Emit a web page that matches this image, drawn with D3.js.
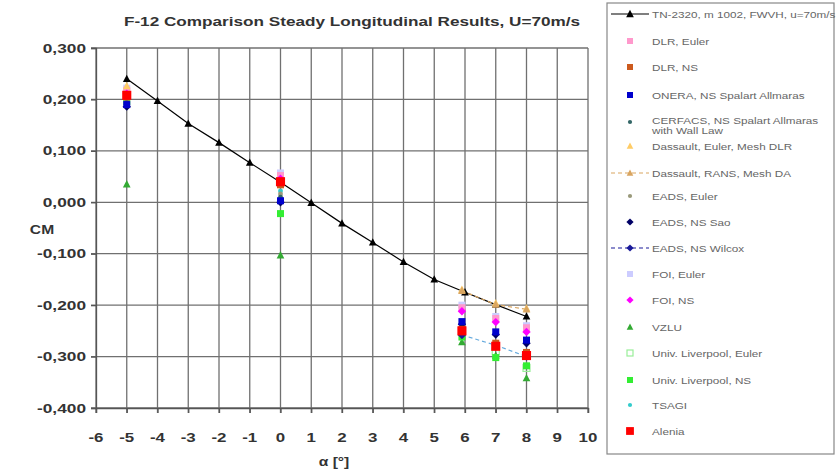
<!DOCTYPE html>
<html><head><meta charset="utf-8">
<script src="https://cdn.jsdelivr.net/npm/d3@7/dist/d3.min.js"></script>
<style>body{margin:0;background:#fff}svg{display:block}</style>
</head><body><svg id="c" width="838" height="473"></svg>
<script>
const title = "F-12 Comparison Steady Longitudinal Results, U=70m/s";
const xTicks = [-6,-5,-4,-3,-2,-1,0,1,2,3,4,5,6,7,8,9,10];
const yTicks = [0.3,0.2,0.1,0,-0.1,-0.2,-0.3,-0.4];

const names = ["TN-2320, m 1002, FWVH, u=70m/s","DLR, Euler","DLR, NS","ONERA, NS Spalart Allmaras",
 "CERFACS, NS Spalart Allmaras\nwith Wall Law","Dassault, Euler, Mesh DLR","Dassault, RANS, Mesh DA",
 "EADS, Euler","EADS, NS Sao","EADS, NS Wilcox","FOI, Euler","FOI, NS","VZLU",
 "Univ. Liverpool, Euler","Univ. Liverpool, NS","TSAGI","Alenia"];
const colors = ["#000000","#ff99cc","#cc5a1e","#0000cc","#336666","#ffcc66","#d9a560",
 "#99997a","#000066","#1a1a99","#ccccff","#ff00ff","#33aa33","#99ee99","#33ee33","#33cccc","#ff0000"];
const shapes = ["tri","sq","sq","sq","dot","tri","tri","dot","dia","dia","sq","dia","tri","hsq","sq","dot","bsq"];
const lines = ["solid","none","none","none","none","none","dash","none","none","dash","none","none","none","none","none","none","none"];

const alphaTN = [-5,-4,-3,-2,-1,0,1,2,3,4,5,6,7,8];
const cmTN = [0.240,0.197,0.153,0.116,0.077,0.039,-0.001,-0.041,-0.078,-0.116,-0.150,-0.175,-0.199,-0.222];
const alphaCFD = [-5,0,5.9,7,8];
const cmDLREuler = [0.218,0.052,-0.205,-0.226,-0.244];
const cmDLRNS = [0.205,0.034,-0.247,-0.274,-0.292];
const cmONERA = [0.190,0.003,-0.232,-0.252,-0.268];
const cmCERFACS = [0.194,0.010,null,null,null];
const cmDassEuler = [0.226,0.046,-0.170,-0.196,-0.206];
const cmDassRANS = [null,null,-0.172,-0.199,-0.208];
const cmEADSEuler = [0.200,0.016,null,null,null];
const cmEADSSao = [0.186,0.000,-0.237,-0.257,-0.274];
const cmEADSWilcox = [null,null,-0.258,-0.278,-0.300];
const cmFOIEuler = [0.222,0.057,-0.200,-0.222,-0.240];
const cmFOINS = [0.211,0.046,-0.212,-0.233,-0.252];
const cmVZLU = [0.035,-0.103,-0.272,-0.298,-0.342];
const cmLivEuler = [null,null,null,-0.290,-0.322];
const cmLivNS = [0.196,-0.022,-0.262,-0.302,-0.318];
const cmTSAGI = [0.200,0.022,-0.255,-0.282,-0.300];
const cmAlenia = [0.208,0.040,-0.250,-0.280,-0.298];

const seriesVals = [cmTN,cmDLREuler,cmDLRNS,cmONERA,cmCERFACS,cmDassEuler,cmDassRANS,cmEADSEuler,
 cmEADSSao,cmEADSWilcox,cmFOIEuler,cmFOINS,cmVZLU,cmLivEuler,cmLivNS,cmTSAGI,cmAlenia];

const svg = d3.select("#c");
const L=96,R=588,T=48,B=408;
const x = d3.scaleLinear().domain([-6,10]).range([L,R]);
const y = d3.scaleLinear().domain([-0.4,0.3]).range([B,T]);
const font = "Arial, 'Liberation Sans', sans-serif";

// stretched text helper
function stext(parent,tx,ty,str,opt){
 const g = parent.append("g").attr("transform",`translate(${tx},${ty}) scale(${opt.sx||1.3},1)`);
 return g.append("text").attr("x",0).attr("y",0).attr("text-anchor",opt.anchor||"start")
  .attr("font-family",font).attr("font-size",opt.size).attr("font-weight",opt.weight||"normal")
  .attr("fill",opt.fill||"#333").text(str);
}

// grid
svg.append("g").selectAll("line").data(xTicks).join("line")
 .attr("x1",d=>x(d)).attr("x2",d=>x(d)).attr("y1",T).attr("y2",B+5)
 .attr("stroke","#707070").attr("stroke-width",1.3);
svg.append("g").selectAll("line").data(yTicks).join("line")
 .attr("x1",L-5).attr("x2",R).attr("y1",d=>y(d)).attr("y2",d=>y(d))
 .attr("stroke","#707070").attr("stroke-width",1.3);

const fmt = d => d3.format(".3f")(d).replace(".",",").replace("−","-");
const yAxis = d3.axisLeft(y).tickValues(yTicks).tickFormat("").tickSize(5);
const gy = svg.append("g").attr("transform",`translate(${L},0)`).call(yAxis);
const xAxis = d3.axisBottom(x).tickValues(xTicks).tickFormat("").tickSize(5);
const gx = svg.append("g").attr("transform",`translate(0,${B})`).call(xAxis);
[gx,gy].forEach(g=>{ g.selectAll("path,line").attr("stroke","#555").attr("stroke-width",1.3); });
yTicks.forEach(v=>stext(svg,86,y(v)+4.5,fmt(v),{size:13,weight:"bold",anchor:"end",sx:1.33}));
xTicks.forEach(v=>stext(svg,x(v),B+34,String(v),{size:13,weight:"bold",anchor:"middle",sx:1.3}));

stext(svg,352,26,title,{size:13,weight:"bold",anchor:"middle",sx:1.32});
stext(svg,42,234,"CM",{size:12.5,weight:"bold",anchor:"middle",sx:1.25});
stext(svg,334,466,"α [°]",{size:13,weight:"bold",anchor:"middle",sx:1.2});

function marker(g,shape,color,cx,cy,s){
 s = s||6;
 if(shape==="tri") g.append("path").attr("d",`M${cx},${cy-s*0.6}L${cx+s*0.55},${cy+s*0.45}L${cx-s*0.55},${cy+s*0.45}Z`).attr("fill",color);
 else if(shape==="sq") g.append("rect").attr("x",cx-s/2).attr("y",cy-s/2).attr("width",s).attr("height",s).attr("fill",color);
 else if(shape==="bsq") g.append("rect").attr("x",cx-s*0.65).attr("y",cy-s*0.65).attr("width",s*1.3).attr("height",s*1.3).attr("fill",color);
 else if(shape==="hsq") g.append("rect").attr("x",cx-s/2).attr("y",cy-s/2).attr("width",s).attr("height",s).attr("fill","none").attr("stroke",color).attr("stroke-width",1.2);
 else if(shape==="dia") g.append("path").attr("d",`M${cx},${cy-s*0.6}L${cx+s*0.6},${cy}L${cx},${cy+s*0.6}L${cx-s*0.6},${cy}Z`).attr("fill",color);
 else if(shape==="dot") g.append("circle").attr("cx",cx).attr("cy",cy).attr("r",s*0.35).attr("fill",color);
}

const plot = svg.append("g");
const order = [0,12,13,14,15,10,1,5,6,7,4,9,8,3,11,2,16];
const lineGen = d3.line().x(d=>x(d[0])).y(d=>y(d[1]));
seriesVals.forEach((vals,i)=>{
 if(lines[i]==="none") return;
 const xs = i===0?alphaTN:alphaCFD;
 const pts = xs.map((a,k)=>[a,vals[k]]).filter(p=>p[1]!==null);
 plot.append("path").attr("d",lineGen(pts)).attr("fill","none").attr("stroke",i===9?"#66aadd":colors[i])
  .attr("stroke-width",1.2).attr("stroke-dasharray",lines[i]==="dash"?"4,3":null);
});
order.forEach(i=>{
 const vals = seriesVals[i];
 const xs = i===0?alphaTN:alphaCFD;
 vals.forEach((v,k)=>{ if(v!==null) marker(plot,shapes[i],colors[i],x(xs[k]),y(v),7); });
});

// legend
const lg = svg.append("g");
lg.append("rect").attr("x",607).attr("y",3).attr("width",227).attr("height",451)
 .attr("fill","none").attr("stroke","#888").attr("stroke-width",1.2);
const ly = [14,41,67,95,122,146,173,196,222,248,274,300,327,353,380,405,431];
names.forEach((n,i)=>{
 const cy = ly[i];
 if(lines[i]!=="none") lg.append("line").attr("x1",611).attr("x2",649).attr("y1",cy).attr("y2",cy)
   .attr("stroke",i===9?"#1a1a99":colors[i]).attr("stroke-width",1.2).attr("stroke-dasharray",lines[i]==="dash"?"4,3":null);
 marker(lg,shapes[i],colors[i],630,cy,i===0?7:6);
 const parts = n.split("\n");
 if(parts.length>1){
  parts.forEach((p,j)=>stext(lg,652,cy+2+j*10,p,{size:9,fill:"#666",sx:1.3}));
 } else stext(lg,652,cy+3.5,n,{size:9,fill:"#666",sx:1.3});
});
</script></body></html>
